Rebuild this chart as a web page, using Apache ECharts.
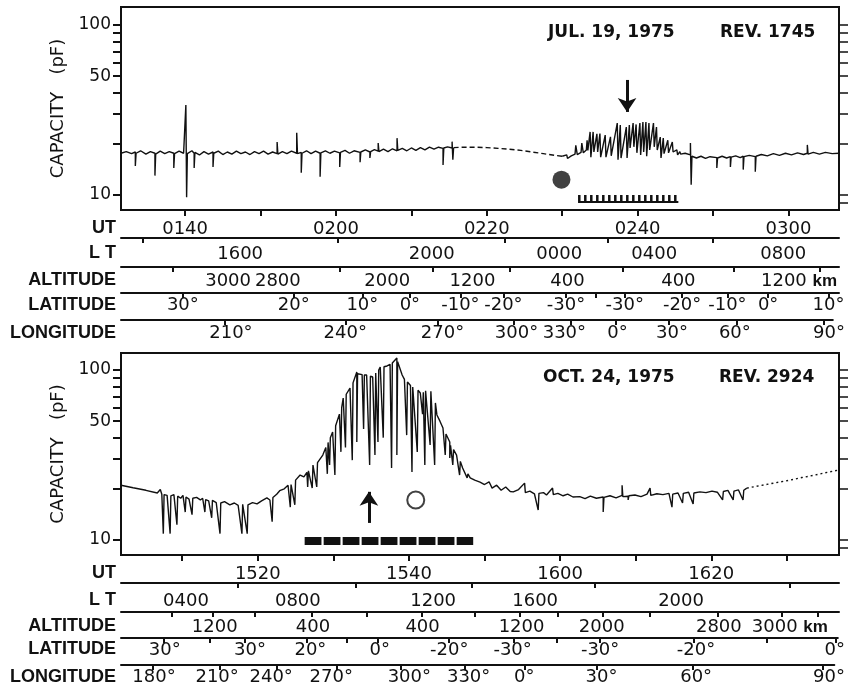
<!DOCTYPE html>
<html><head><meta charset="utf-8">
<script src="https://cdn.jsdelivr.net/npm/echarts@6/dist/echarts.min.js"></script>
<style>html,body{margin:0;padding:0;background:#fff}#c{width:848px;height:690px}</style>
</head><body><div id="c"></div>
<script>
// ---------------- DATA ----------------
// UT in minutes after 00:00, capacity in pF
const topTraceA = [
[91.5,17.6],[92.2,18.0],[92.9,17.5],[93.4,17.9],[93.4,14.8],[93.5,17.6],[94.1,18.2],[94.8,17.4],[95.4,18.0],[96.0,17.6],[96.0,13.0],[96.1,17.4],[96.7,18.1],[97.3,17.5],[97.9,18.0],[98.5,17.6],[98.5,14.4],[98.6,17.5],[99.2,18.1],[99.8,17.6],[100.1,33.8],[100.2,9.7],[100.3,17.5],[100.9,18.2],[101.2,17.6],[101.2,14.4],[101.3,17.8],[101.9,17.2],[102.5,18.0],[103.1,17.4],[103.7,17.9],[103.7,14.6],[103.8,17.6],[104.4,18.1],[105.0,17.3],[105.6,17.9],[106.2,17.4],[106.8,18.1],[107.4,17.5],[108.0,17.9],[108.6,17.3],[109.2,18.0],[109.8,17.5],[110.4,18.1],[111.0,17.4],[111.6,17.9],[112.2,17.5],[112.2,20.5],[112.3,17.4],[112.9,18.0],[113.5,17.5],[114.1,18.1],[114.8,17.6],[114.8,23.2],[114.9,17.5],[115.4,17.8],[115.4,13.5],[115.5,17.6],[116.1,18.2],[116.7,17.5],[117.3,18.1],[117.9,17.6],[117.9,12.8],[118.0,17.7],[118.6,18.2],[119.2,17.6],[119.8,18.1],[120.5,17.7],[120.5,14.6],[120.6,17.8],[121.2,18.3],[121.8,17.6],[122.4,18.2],[123.2,17.8],[123.2,15.6],[123.3,17.9],[123.9,18.4],[124.5,17.9],[124.5,16.5],[124.6,18.0],[125.1,18.5],[125.6,18.1],[125.6,20.2],[125.7,18.0],[126.3,18.6],[126.9,18.0],[127.5,18.7],[128.1,18.2],[128.1,21.6],[128.2,18.3],[128.8,18.8],[129.4,18.2],[130.0,18.9],[130.6,18.3],[131.2,19.0],[131.8,18.4],[132.4,19.1],[133.0,18.6],[133.6,19.1],[134.2,18.8],[134.2,15.0],[134.3,18.9],[134.8,19.2],[135.4,18.9],[135.4,20.6],[135.5,16.1],[135.6,19.0]
];
const topTraceQuiet = [
[135.6,19.0],[137.0,19.1],[138.5,19.1],[140.0,19.0],[141.5,18.8],[143.0,18.6],[144.5,18.3],[146.0,17.9],[147.5,17.5],[149.0,17.1],[150.0,16.9]
];
const topTraceB = [
[150.0,16.9],[150.6,17.2],[150.7,16.4],[151.2,17.0],[151.7,17.4],[151.8,19.6],[152.0,17.3],[152.5,17.8],[152.6,20.2],[152.8,17.7],[153.2,18.4],[153.3,21.0],[153.4,18.3],
[153.7,23.5],[153.8,16.7],[154.1,23.5],[154.2,17.9],[154.6,22.9],[154.7,17.9],[155.0,23.0],[155.1,16.7],[155.7,22.5],[155.8,16.7],[156.4,22.0],[156.5,17.0],[157.3,26.5],[157.4,16.1],[157.7,25.8],[157.8,16.5],[158.5,25.1],[158.6,16.5],[158.9,25.8],[159.0,18.9],[159.4,26.5],[159.5,19.2],[159.8,26.0],[159.9,17.7],[160.3,26.5],[160.4,17.2],[160.7,26.9],[160.8,17.9],[161.1,26.9],[161.2,16.9],[161.5,26.5],[161.6,18.4],[162.1,26.5],[162.2,19.2],[162.5,25.1],[162.6,18.4],[163.0,21.9],[163.1,16.5],[163.4,21.6],[163.5,17.5],[164.0,21.0],[164.1,17.7],[164.6,20.5],[164.7,17.9],[165.2,18.4],[165.3,17.2],[165.6,18.0],[165.7,17.4],[166.3,17.6],
[167.0,17.2],[167.0,20.2],[167.1,11.5],[167.2,16.9],[167.8,16.5],[168.4,16.9],[169.0,16.4],[169.6,16.8],[170.5,16.6],[170.5,14.4],[170.6,16.5],[171.2,16.9],[171.8,16.5],[172.3,16.8],[172.3,14.6],[172.4,16.7],[173.0,17.0],[173.6,16.6],[174.0,16.9],[174.0,14.1],[174.1,16.8],[174.8,17.1],[175.6,16.8],[175.6,13.7],[175.7,16.9],[176.4,17.3],[177.2,17.0],[178.0,17.5],[178.8,17.1],[179.6,17.6],[180.4,17.2],[181.2,17.7],[182.0,17.3],[182.5,17.6],[182.5,19.7],[182.6,17.4],[183.3,17.8],[184.1,17.4],[184.9,17.8],[185.8,17.5],[186.7,17.6]
];
const botTraceMain = [
[901.9,21.0],[903.5,20.3],[905.2,19.6],[906.7,18.9],
[907.1,19.8],[907.3,18.6],[907.5,10.9],[907.6,18.5],[908.0,18.3],[908.4,10.9],[908.5,18.2],[908.9,18.5],[909.3,12.3],[909.4,18.1],[909.8,17.6],[910.1,18.3],[910.4,14.6],[910.5,17.9],[910.9,17.4],[911.3,14.1],[911.4,17.6],[911.9,17.8],[912.4,17.2],[912.7,17.6],[913.0,14.6],[913.1,17.3],[913.5,17.0],[913.9,13.5],[914.0,17.1],[914.5,16.6],[915.0,10.9],[915.1,16.5],[915.6,16.8],[916.3,16.1],[916.9,16.5],[917.4,16.0],[917.9,10.9],[918.0,16.2],[918.6,10.9],[918.7,16.1],[919.3,16.6],[919.9,16.3],[920.5,17.0],[921.2,17.7],[921.6,17.2],[921.9,12.8],[922.0,17.8],[922.5,18.6],[922.9,19.5],[923.5,20.0],[924.0,21.0],[924.3,15.6],[924.4,21.2],[924.9,16.1],[925.0,22.5],[925.6,24.1],[926.1,23.5],[926.5,25.0],[926.6,20.5],[926.7,25.5],[927.2,20.2],[927.3,27.6],[927.8,20.5],[927.9,28.5],[928.6,31.6],[929.0,35.0],[929.2,24.5],[929.3,37.5],[929.5,27.6],[929.6,40.0],[929.9,43.2],[930.2,24.1],[930.3,47.0],[930.8,55.0],[931.0,33.0],[931.1,60.0],[931.3,68.4],[931.6,35.0],[931.7,72.0],[932.2,78.3],[932.5,29.5],[932.6,84.0],[933.1,97.3],[933.1,37.7],[933.2,95.0],[933.8,94.0],[934.0,45.0],[934.1,93.5],[934.4,93.5],[934.8,27.6],[934.9,92.0],[935.2,91.0],[935.5,31.6],[935.6,96.0],[935.9,37.7],[936.0,100.0],[936.2,104.1],[936.6,40.0],[936.7,104.5],[937.1,105.6],[937.5,108.0],[937.7,26.5],[937.8,110.0],[937.9,111.4],[938.4,117.7],[938.4,31.6],[938.5,112.0],[939.1,93.5],[939.4,88.0],[939.7,41.4],[939.8,85.0],[940.2,81.0],[940.4,25.1],[940.5,79.4],[941.1,32.9],[941.2,76.0],[941.5,73.2],[941.8,55.0],[941.9,74.0],[942.1,27.6],[942.2,75.5],[942.4,76.3],[942.8,36.2],[942.9,75.0],[943.0,74.2],[943.4,27.6],[943.5,64.0],[943.7,54.4],[944.1,50.0],[944.5,45.6],[944.8,31.6],[944.9,42.0],[945.4,37.7],[945.4,30.4],[945.5,36.0],[945.8,27.6],[945.9,34.0],[946.3,31.6],[946.7,24.1],[946.8,29.0],[947.1,26.5],[947.7,23.2],[947.8,24.5],[948.1,23.2],[948.7,22.5],[949.4,21.9],[950.0,21.2],[950.6,22.0],[951.0,20.2],[951.6,21.0],[952.2,19.6],[952.8,20.5],[953.4,19.3],[953.8,19.2],[954.5,19.8],[955.3,21.6],[955.4,19.0],[956.0,19.4],[956.6,18.7],[957.1,15.0],[957.2,18.8],[957.8,19.0],[958.2,18.4],[959.0,20.2],[959.1,18.5],[959.7,18.8],[960.4,18.2],[961.0,18.6],[961.7,17.9],[962.6,18.0],[963.3,17.5],[964.0,18.1],[964.8,17.6],[965.7,17.9],[965.7,14.6],[965.8,17.8],[966.6,18.2],[967.4,17.7],[968.2,18.3],[968.2,21.0],[968.3,18.0],[969.0,18.1],[969.0,17.2],[969.1,18.2],[969.9,18.4],[970.7,18.0],[971.5,18.6],[971.9,20.2],[972.0,18.3],[972.8,18.7],[973.6,18.5],[974.4,18.8],[974.8,15.6],[974.9,18.6],[975.6,18.9],[976.2,16.5],[976.3,18.8],[977.0,19.1],[977.6,16.3],[977.7,18.9],[978.5,19.2],[979.3,19.0],[980.1,19.4],[980.8,19.1],[981.5,17.2],[981.6,19.3],[982.2,19.6],[982.9,17.2],[983.0,19.4],[983.6,19.7],[984.2,17.2],[984.3,19.6],[984.7,20.2]
];
const botTraceQuiet = [
[984.7,20.2],[986.0,20.7],[987.5,21.3],[989.0,21.9],[990.4,22.5],[992.0,23.3],[993.5,24.0],[995.0,24.8],[996.9,25.8]
];

// Markers (UT min, pF)
const topDot = [[149.9, 12.3]];
const topArrow = [[158.6, 47.5], [158.6, 30.8]];
const topCombBase = [[152.1, 9.1], [165.4, 9.1]];
const topCombTeeth = [[152.1, 9.6], [165.4, 9.6]];
const botCircle = [[940.9, 17.2]];
const botArrow = [[934.7, 12.6], [934.7, 19.2]];
const botBar = [[926.2, 9.87], [948.5, 9.87]];

// Capacity axis ticks
const capTicks = [10,20,30,40,50,60,70,80,90,100];
const capLabelVals = [10,50,100];
const capRightTicks = [9,10,20,30,40,50,60,70,80,90,100];

// ---- Top panel auxiliary scales (UT minutes) ----
const topUTTicks = [100,110,120,130,140,150,160,170,180];
const topUTLabelAt = [100,120,140,160,180];
const topUTLabels = ['0140','0200','0220','0240','0300'];
const topLTTicks = [94.4,120.3,142.4,156.0,170.0];
const topLTLabelAt = [107.3,132.7,149.6,162.2,179.3];
const topLTLabels = ['1600','2000','0000','0400','0800'];
const topALTTicks = [98.4,120.5,132.9,143.1,158.0,172.7,184.2];
const topALTLabelAt = [105.7,112.3,126.8,138.1,150.7,165.4,181.4];
const topALTLabels = ['3000','2800','2000','1200','400','400','1200 {k|km}'];
const topLATTicks = [99.7,114.4,123.5,129.8,136.5,142.2,150.5,154.4,158.3,165.9,171.9,177.3,185.3];
const topLATLabelAt = [99.7,114.4,123.5,129.8,136.5,142.2,150.5,158.3,165.9,171.9,177.3,185.3];
const topLATLabels = ['30°','20°','10°','0°','-10°','-20°','-30°','-30°','-20°','-10°','0°','10°'];
const topLONTicks = [105.4,121.5,133.8,144.0,151.7,157.7,164.7,173.9,185.5];
const topLONLabelAt = [106.2,121.5,134.5,144.4,150.8,157.9,165.2,173.6,186.2];
const topLONLabels = ['210°','240°','270°','300°','330°','0°','30°','60°','90°'];

// ---- Bottom panel auxiliary scales ----
const botUTTicks = [910,920,930,940,950,960,970,980,990];
const botUTLabelAt = [920,940,960,980];
const botUTLabels = ['1520','1540','1600','1620'];
const botLTTicks = [917.4,932.9,948.3,964.6,990.4];
const botLTLabelAt = [910.5,925.3,943.2,956.7,976.0];
const botLTLabels = ['0400','0800','1200','1600','2000'];
const botALTTicks = [908.6,914.1,919.6,927.2,934.4,941.7,948.7,954.7,959.7,965.7,971.9,980.9,989.3,994.1];
const botALTLabelAt = [914.3,927.3,941.8,954.9,965.5,981.0,990.4];
const botALTLabels = ['1200','400','400','1200','2000','2800','3000 {k|km}'];
const botLATTicks = [907.5,913.7,918.3,926.5,931.8,935.9,945.4,954.0,959.6,965.3,977.8,987.5,996.6];
const botLATLabelAt = [907.7,919.0,927.0,936.2,945.4,953.8,965.4,978.1,996.5];
const botLATLabels = ['30°','30°','20°','0°','-20°','-30°','-30°','-20°','0°'];
const botLONTicks = [906.1,915.0,922.7,930.6,939.2,947.7,955.7,965.3,978.1,995.3];
const botLONLabelAt = [906.3,914.7,921.9,929.9,940.3,948.2,955.6,965.9,978.5,996.2];
const botLONLabels = ['180°','210°','240°','270°','300°','330°','0°','30°','60°','90°'];

// ---------------- CHART ----------------
const INK = '#111';
const NUMFONT = 'DejaVu Sans';
const TOPX = [91.5, 186.7], BOTX = [901.9, 996.9];
const TOPY = [8.16, 127.6], BOTY = [8.16, 125.9];

function lookup(at, txt) {
  return function (v) {
    for (let i = 0; i < at.length; i++) if (Math.abs(at[i] - v) < 1e-6) return txt[i];
    return '';
  };
}

const grids = [], xAxes = [], yAxes = [];
function addPlot(top, height, xr, yr, ticks, labAt, labs) {
  const gi = grids.length;
  grids.push({left: 121, width: 718, top: top, height: height, show: true, borderColor: INK, borderWidth: 2, backgroundColor: 'transparent'});
  xAxes.push({type: 'value', gridIndex: gi, min: xr[0], max: xr[1], position: 'bottom',
    axisLine: {show: true, lineStyle: {color: INK, width: 2}},
    axisTick: {show: true, customValues: ticks, length: 6, lineStyle: {color: INK, width: 2}},
    axisLabel: {show: true, customValues: labAt, formatter: lookup(labAt, labs), margin: 10, color: INK, fontSize: 18, fontFamily: NUMFONT, hideOverlap: false},
    splitLine: {show: false}});
  yAxes.push({type: 'log', logBase: 10, gridIndex: gi, position: 'left', min: yr[0], max: yr[1],
    axisLine: {show: true, lineStyle: {color: INK, width: 2}},
    axisTick: {show: true, customValues: capTicks, length: 8, lineStyle: {color: INK, width: 2}},
    axisLabel: {show: true, customValues: capLabelVals, formatter: v => String(Math.round(v)), margin: 10, color: INK, fontSize: 17, fontFamily: NUMFONT},
    splitLine: {show: false}, minorTick: {show: false},
    name: 'CAPACITY   (pF)', nameLocation: 'middle', nameGap: 48, nameRotate: 90,
    nameTextStyle: {color: INK, fontSize: 18, fontFamily: NUMFONT}});
  yAxes.push({type: 'log', logBase: 10, gridIndex: gi, position: 'right', min: yr[0], max: yr[1],
    axisLine: {show: true, lineStyle: {color: INK, width: 2}},
    axisTick: {show: true, customValues: capRightTicks, length: 9, lineStyle: {color: INK, width: 1.5}},
    axisLabel: {show: false}, splitLine: {show: false}, minorTick: {show: false}});
  return {x: xAxes.length - 1, y: yAxes.length - 2};
}
function addRow(lineY, xr, ticks, labAt, labs, margin) {
  const gi = grids.length;
  grids.push({left: 121, width: 718, top: lineY - 1, height: 1, show: false});
  xAxes.push({type: 'value', gridIndex: gi, min: xr[0], max: xr[1], position: 'bottom',
    axisLine: {show: true, lineStyle: {color: INK, width: 2}},
    axisTick: {show: true, customValues: ticks, length: 5, lineStyle: {color: INK, width: 2}},
    axisLabel: {show: true, customValues: labAt, formatter: lookup(labAt, labs), margin: margin, color: INK, fontSize: 18, fontFamily: NUMFONT, hideOverlap: false,
      rich: {k: {fontSize: 17, fontWeight: 'bold', fontFamily: 'Liberation Sans', color: INK}}},
    splitLine: {show: false}});
  yAxes.push({type: 'value', gridIndex: gi, show: false, min: 0, max: 1});
}

const topAx = addPlot(7, 203, TOPX, TOPY, topUTTicks, topUTLabelAt, topUTLabels);
const botAx = addPlot(353, 202, BOTX, BOTY, botUTTicks, botUTLabelAt, botUTLabels);
addRow(238, TOPX, topLTTicks, topLTLabelAt, topLTLabels, 7);
addRow(267, TOPX, topALTTicks, topALTLabelAt, topALTLabels, 5);
addRow(293, TOPX, topLATTicks, topLATLabelAt, topLATLabels, 3);
addRow(320, TOPX, topLONTicks, topLONLabelAt, topLONLabels, 4);
addRow(583, BOTX, botLTTicks, botLTLabelAt, botLTLabels, 9);
addRow(612, BOTX, botALTTicks, botALTLabelAt, botALTLabels, 6);
addRow(638, BOTX, botLATTicks, botLATLabelAt, botLATLabels, 3);
addRow(665, BOTX, botLONTicks, botLONLabelAt, botLONLabels, 3);

function lineSeries(ax, data, width, type) {
  return {type: 'line', xAxisIndex: ax.x, yAxisIndex: ax.y, data: data, showSymbol: false, symbol: 'none',
    lineStyle: {color: INK, width: width, type: type || 'solid'}, silent: true, animation: false, z: 3};
}
function arrowSeries(ax, pts) {
  return {type: 'line', xAxisIndex: ax.x, yAxisIndex: ax.y, data: [], silent: true, animation: false,
    markLine: {silent: true, animation: false, symbol: ['none', 'arrow'], symbolSize: 14, label: {show: false},
      lineStyle: {color: INK, width: 3, type: 'solid'},
      data: [[{coord: pts[0]}, {coord: pts[1]}]]}};
}

const titles = [
  ['UT', 228], ['L T', 253], ['ALTITUDE', 280], ['LATITUDE', 305], ['LONGITUDE', 333],
  ['UT', 573], ['L T', 600], ['ALTITUDE', 626], ['LATITUDE', 649], ['LONGITUDE', 677]
];
const headers = [
  ['JUL. 19, 1975', 548, 33], ['REV. 1745', 720, 33],
  ['OCT. 24, 1975', 543, 378], ['REV. 2924', 719, 378]
];

const graphic = [];
titles.forEach(t => graphic.push({type: 'text', x: 116, y: t[1], silent: true,
  style: {text: t[0], align: 'right', verticalAlign: 'middle', fontSize: 18, fontWeight: 'bold', fontFamily: 'Liberation Sans', fill: INK}}));
headers.forEach(h => graphic.push({type: 'text', x: h[1], y: h[2], silent: true,
  style: {text: h[0], align: 'left', verticalAlign: 'middle', fontSize: 17, fontWeight: 'bold', fontFamily: 'DejaVu Sans', fill: INK}}));

const option = {
  animation: false,
  backgroundColor: '#fff',
  grid: grids, xAxis: xAxes, yAxis: yAxes,
  graphic: graphic,
  series: [
    lineSeries(topAx, topTraceA, 1.4),
    lineSeries(topAx, topTraceQuiet, 1.4, [5, 3]),
    lineSeries(topAx, topTraceB, 1.4),
    lineSeries(botAx, botTraceMain, 1.4),
    lineSeries(botAx, botTraceQuiet, 1.4, [2, 3]),
    {type: 'scatter', xAxisIndex: topAx.x, yAxisIndex: topAx.y, data: topDot, symbol: 'circle', symbolSize: 18,
      itemStyle: {color: INK}, silent: true, animation: false},
    {type: 'scatter', xAxisIndex: botAx.x, yAxisIndex: botAx.y, data: botCircle, symbol: 'circle', symbolSize: 17,
      itemStyle: {color: '#fff', borderColor: INK, borderWidth: 2}, silent: true, animation: false},
    arrowSeries(topAx, topArrow),
    arrowSeries(botAx, botArrow),
    lineSeries(topAx, topCombBase, 2),
    lineSeries(topAx, topCombTeeth, 6, [2.5, 3.5]),
    lineSeries(botAx, botBar, 8, [16.8, 2.2])
  ]
};
const chart = echarts.init(document.getElementById('c'), null, {renderer: 'canvas'});
chart.setOption(option);
</script></body></html>
